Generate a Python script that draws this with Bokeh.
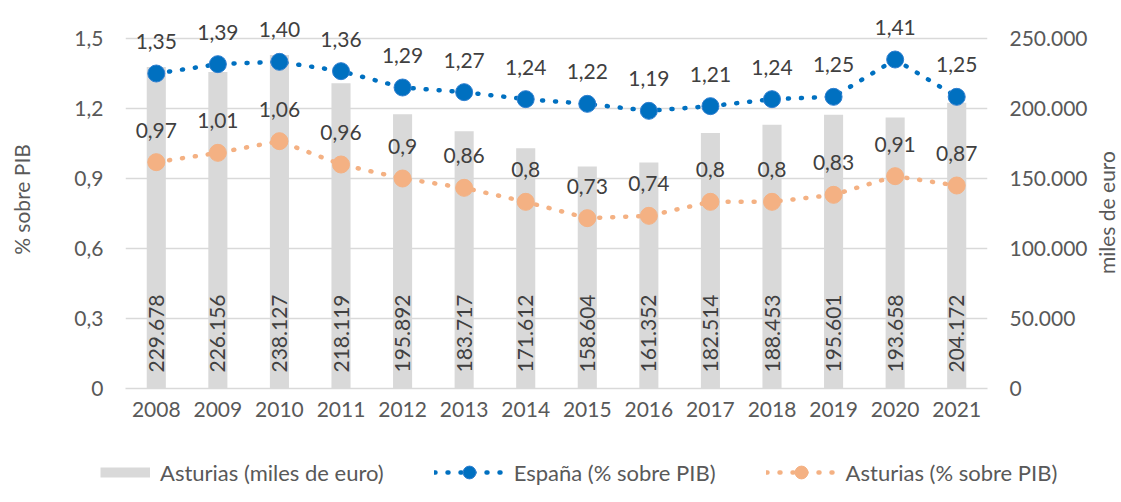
import math
from bokeh.plotting import figure
from bokeh.layouts import column, row
from bokeh.models import (ColumnDataSource, Range1d, FactorRange, LinearAxis, FixedTicker,
                          CustomJSTickFormatter, LabelSet, Label, Legend, LegendItem)
from bokeh.core.properties import value
from bokeh.embed import file_html
from bokeh.resources import INLINE

# ---------------- data ----------------
years = ["2008", "2009", "2010", "2011", "2012", "2013", "2014",
         "2015", "2016", "2017", "2018", "2019", "2020", "2021"]
asturias_miles = [229678, 226156, 238127, 218119, 195892, 183717, 171612,
                  158604, 161352, 182514, 188453, 195601, 193658, 204172]
espana_pct = [1.35, 1.39, 1.40, 1.36, 1.29, 1.27, 1.24,
              1.22, 1.19, 1.21, 1.24, 1.25, 1.41, 1.25]
asturias_pct = [0.97, 1.01, 1.06, 0.96, 0.90, 0.86, 0.80,
                0.73, 0.74, 0.80, 0.80, 0.83, 0.91, 0.87]
left_ticks = [0, 0.3, 0.6, 0.9, 1.2, 1.5]
right_ticks = [0, 50000, 100000, 150000, 200000, 250000]
left_title = "% sobre PIB"
right_title = "miles de euro"
legend_labels = ["Asturias (miles de euro)", "España (% sobre PIB)", "Asturias (% sobre PIB)"]

# ---------------- styles ----------------
FONT = "Lato"
TXT = "#595959"
LBL = "#404040"
GRID = "#D9D9D9"
BLUE = "#0070C0"
ORANGE = "#F4B183"
TOP_PCT = 1.62                      # headroom above the 1,5 gridline for labels
TOP_EUR = 250000 * TOP_PCT / 1.5
MAIN_H = 440

src = ColumnDataSource(dict(
    year=years,
    miles=asturias_miles,
    miles_lbl=[f"{v:,}".replace(",", ".") for v in asturias_miles],
    zero=[0] * len(years),
    esp=espana_pct,
    esp_lbl=[f"{v:.2f}".replace(".", ",") for v in espana_pct],
    ast=asturias_pct,
    ast_lbl=[("%g" % v).replace(".", ",") for v in asturias_pct],
))

p = figure(width=1091, height=MAIN_H,
           x_range=FactorRange(*years), y_range=Range1d(0, TOP_PCT),
           output_backend="svg", toolbar_location=None,
           min_border_left=125, min_border_right=104,
           min_border_top=10, min_border_bottom=52)
p.frame_align = False
p.extra_y_ranges = {"eur": Range1d(0, TOP_EUR)}
p.outline_line_color = None
p.background_fill_color = "white"
p.border_fill_color = "white"

# grid
p.xgrid.visible = False
p.ygrid.ticker = FixedTicker(ticks=left_ticks)
p.ygrid.grid_line_color = GRID
p.ygrid.grid_line_width = 1.5

# bars
p.vbar(x="year", top="miles", width=0.31, source=src, y_range_name="eur",
       fill_color=GRID, line_color=None)

# lines
p.line(x="year", y="esp", source=src, line_color=BLUE, line_width=4.5,
       line_dash="1 12", line_cap="round")
p.scatter(x="year", y="esp", source=src, marker="circle", size=17,
          fill_color=BLUE, line_color="#2F7FD0", line_width=1)
p.line(x="year", y="ast", source=src, line_color=ORANGE, line_width=4.5,
       line_dash="1 12", line_cap="round")
p.scatter(x="year", y="ast", source=src, marker="circle", size=17,
          fill_color=ORANGE, line_color=ORANGE, line_width=1)

# labels
p.add_layout(LabelSet(x="year", y="zero", text="miles_lbl", source=src, y_range_name="eur",
                      angle=math.pi / 2, y_offset=16, text_align="left", text_baseline="middle",
                      text_font=value(FONT), text_font_size="21px", text_color=LBL))
p.add_layout(LabelSet(x="year", y="esp", text="esp_lbl", source=src, y_offset=32,
                      text_align="center", text_baseline="middle",
                      text_font=value(FONT), text_font_size="21px", text_color=LBL))
p.add_layout(LabelSet(x="year", y="ast", text="ast_lbl", source=src, y_offset=32,
                      text_align="center", text_baseline="middle",
                      text_font=value(FONT), text_font_size="21px", text_color=LBL))

# axes
def style_axis(ax):
    ax.axis_line_color = None
    ax.major_tick_line_color = None
    ax.minor_tick_line_color = None
    ax.major_tick_out = 0
    ax.major_tick_in = 0
    ax.minor_tick_out = 0
    ax.minor_tick_in = 0
    ax.major_label_text_font = FONT
    ax.major_label_text_font_size = "21px"
    ax.major_label_text_color = TXT
    ax.axis_label_text_font = FONT
    ax.axis_label_text_font_size = "21px"
    ax.axis_label_text_color = TXT
    ax.axis_label_text_font_style = "normal"

ly = p.yaxis[0]
style_axis(ly)
ly.ticker = FixedTicker(ticks=left_ticks)
ly.formatter = CustomJSTickFormatter(code="return tick == 0 ? '0' : tick.toFixed(1).replace('.', ',');")
ly.axis_label = left_title
ly.major_label_standoff = 22
ly.axis_label_standoff = 37

ry = LinearAxis(y_range_name="eur", ticker=FixedTicker(ticks=right_ticks),
                formatter=CustomJSTickFormatter(code="return Math.round(tick).toString().replace(/\\B(?=(\\d{3})+(?!\\d))/g, '.');"))
style_axis(ry)
ry.major_label_standoff = 22
p.add_layout(ry, "right")

lx = p.xaxis[0]
style_axis(lx)
lx.axis_line_color = GRID
lx.axis_line_width = 1.5
lx.major_label_standoff = 13

# ---------------- right axis title strip ----------------
tf = figure(width=30, height=MAIN_H, x_range=Range1d(0, 30), y_range=Range1d(0, MAIN_H),
            x_axis_type=None, y_axis_type=None,
            output_backend="svg", toolbar_location=None, min_border=0)
tf.frame_align = False
tf.outline_line_color = None
tf.grid.visible = False
tf.add_layout(Label(x=15, y=MAIN_H - 212, text=right_title, angle=math.pi / 2,
                    text_align="center", text_baseline="middle",
                    text_font=FONT, text_font_size="21px", text_color=TXT))

# ---------------- legend strip ----------------
lg = figure(width=1121, height=62, x_range=Range1d(0, 1121), y_range=Range1d(0, 62),
            x_axis_type=None, y_axis_type=None,
            output_backend="svg", toolbar_location=None, min_border=0)
lg.frame_align = False
lg.outline_line_color = None
lg.grid.visible = False
off = dict(x=[-50, -40], y=[-50, -50])          # keys only, drawn outside the strip's view
k_bar = lg.line(line_color=GRID, line_width=10, line_cap="butt",
                line_dash="0 20 50 1000", **off)
k_esp_l = lg.line(line_color=BLUE, line_width=4.5, line_dash="1 12", line_cap="round", **off)
k_esp_m = lg.scatter(marker="circle", size=17, fill_color=BLUE, line_color="#2F7FD0", **off)
k_ast_l = lg.line(line_color=ORANGE, line_width=4.5, line_dash="1 12", line_cap="round", **off)
k_ast_m = lg.scatter(marker="circle", size=17, fill_color=ORANGE, line_color=ORANGE, **off)

leg = Legend(items=[LegendItem(label=legend_labels[0], renderers=[k_bar]),
                    LegendItem(label=legend_labels[1], renderers=[k_esp_l, k_esp_m]),
                    LegendItem(label=legend_labels[2], renderers=[k_ast_l, k_ast_m])],
             location=(80, 14), orientation="horizontal",
             glyph_width=70, glyph_height=32, label_height=30, label_standoff=10,
             padding=0, margin=0, spacing=50,
             background_fill_alpha=0, border_line_color=None,
             label_text_font=FONT, label_text_font_size="22px", label_text_color=TXT)
lg.add_layout(leg, "center")

page = column(row(p, tf, spacing=0), lg, spacing=0)
open("out.html", "w").write(file_html(page, INLINE))
